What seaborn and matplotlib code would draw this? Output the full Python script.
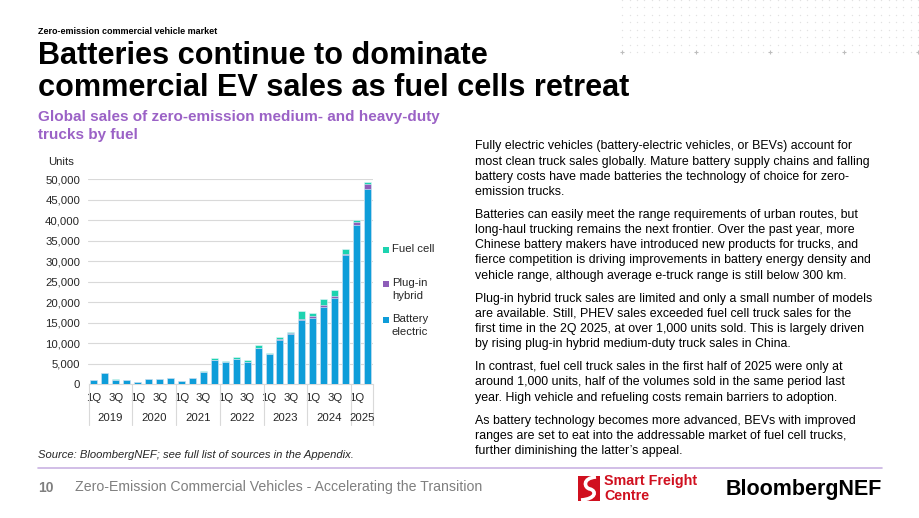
import numpy as np
import pandas as pd
import matplotlib
matplotlib.use("Agg")
import matplotlib.pyplot as plt
import seaborn as sns
from matplotlib.patches import Rectangle, PathPatch
from matplotlib.path import Path
from matplotlib.transforms import blended_transform_factory

# ================= DADOS =================
years = ["2019", "2020", "2021", "2022", "2023", "2024", "2025"]
quarters = ["1Q", "2Q", "3Q", "4Q"]
periods = [f"{q} {y}" for y in years for q in quarters][:26]

battery_electric = [1000, 2650, 1150, 1100, 500, 1250, 1250, 1500, 750, 1450,
                    3100, 6000, 5450, 6250, 5550, 8900, 7350, 10900, 12350, 15700,
                    16150, 18800, 21100, 31500, 38800, 47600]
plug_in_hybrid = [0, 0, 0, 0, 0, 0, 0, 0, 0, 0,
                  0, 0, 0, 0, 0, 50, 0, 50, 50, 150,
                  400, 550, 450, 300, 700, 1300]
fuel_cell = [50, 100, 50, 50, 50, 50, 50, 50, 50, 100,
             150, 350, 350, 500, 350, 650, 250, 650, 350, 2050,
             750, 1450, 1350, 1200, 650, 550]

y_ticks = [0, 5000, 10000, 15000, 20000, 25000, 30000, 35000, 40000, 45000, 50000]
legend_labels = ["Fuel cell", "Plug-in\nhybrid", "Battery\nelectric"]

paragraphs = [
    ["Fully electric vehicles (battery-electric vehicles, or BEVs) account for",
     "most clean truck sales globally. Mature battery supply chains and falling",
     "battery costs have made batteries the technology of choice for zero-",
     "emission trucks."],
    ["Batteries can easily meet the range requirements of urban routes, but",
     "long-haul trucking remains the next frontier. Over the past year, more",
     "Chinese battery makers have introduced new products for trucks, and",
     "fierce competition is driving improvements in battery energy density and",
     "vehicle range, although average e-truck range is still below 300 km."],
    ["Plug-in hybrid truck sales are limited and only a small number of models",
     "are available. Still, PHEV sales exceeded fuel cell truck sales for the",
     "first time in the 2Q 2025, at over 1,000 units sold. This is largely driven",
     "by rising plug-in hybrid medium-duty truck sales in China."],
    ["In contrast, fuel cell truck sales in the first half of 2025 were only at",
     "around 1,000 units, half of the volumes sold in the same period last",
     "year. High vehicle and refueling costs remain barriers to adoption."],
    ["As battery technology becomes more advanced, BEVs with improved",
     "ranges are set to eat into the addressable market of fuel cell trucks,",
     "further diminishing the latter\u2019s appeal."],
]

# ================= ESTILO =================
BEV_COLOR = "#0E9DD9"
PHEV_COLOR = "#8E5DB9"
FC_COLOR = "#1DD3B0"
GRID_COLOR = "#D9D9D9"
TEXT_COLOR = "#262626"
PURPLE = "#9B62C6"

sns.set_style("white")
plt.rcParams["font.family"] = ["Liberation Sans", "DejaVu Sans"]

W, H = 920, 518
fig = plt.figure(figsize=(W / 100, H / 100), dpi=100)

# camada de decoração em coordenadas de pixel
deco = fig.add_axes([0, 0, 1, 1], zorder=0)
deco.set_xlim(0, W)
deco.set_ylim(H, 0)
deco.axis("off")

# eixo do gráfico (pixels: x 88.5-373, y 179.3-384.3)
ax_left, ax_right, ax_top, ax_bot = 88.5, 373.0, 179.3, 384.3
ax = fig.add_axes([ax_left / W, 1 - ax_bot / H, (ax_right - ax_left) / W, (ax_bot - ax_top) / H], zorder=2)

df = pd.DataFrame({"period": periods, "bev": battery_electric,
                   "phev": plug_in_hybrid, "fc": fuel_cell})
df["bev_phev"] = df["bev"] + df["phev"]
df["total"] = df["bev_phev"] + df["fc"]

# barras empilhadas: total -> bev+phev -> bev, sobrepostas
for col, cor in [("total", FC_COLOR), ("bev_phev", PHEV_COLOR), ("bev", BEV_COLOR)]:
    sns.barplot(data=df, x="period", y=col, order=periods, color=cor, saturation=1,
                width=0.64, edgecolor="#E8F4FA", linewidth=0.4, ax=ax, zorder=3)

ax.set_xlim(-0.5, len(periods) - 0.5)
ax.set_ylim(0, 50000)
ax.set_yticks(y_ticks)
ax.set_yticklabels([f"{v:,}" for v in y_ticks], fontsize=8.2, color=TEXT_COLOR)
ax.set_xticks(range(len(periods)))
ax.set_xticklabels([p.split()[0] if p.split()[0] in ("1Q", "3Q") else "" for p in periods],
                   fontsize=8.2, color=TEXT_COLOR)
ax.tick_params(axis="both", length=0)
ax.tick_params(axis="y", pad=6)
ax.tick_params(axis="x", pad=6)
ax.set_xlabel("")
ax.set_ylabel("")
ax.grid(axis="y", color=GRID_COLOR, linewidth=0.8)
ax.set_axisbelow(True)
for s in ["top", "right", "left"]:
    ax.spines[s].set_visible(False)
ax.spines["bottom"].set_color(GRID_COLOR)
ax.spines["bottom"].set_linewidth(0.8)
ax.set_facecolor("none")

# rótulos de ano e separadores
trans = blended_transform_factory(ax.transData, ax.transAxes)
px = 1 / (ax_bot - ax_top)
bordas = [4 * i - 0.5 for i in range(len(years))] + [len(periods) - 0.5]
for b in bordas:
    ax.plot([b, b], [0, -41 * px], transform=trans, color=GRID_COLOR, lw=0.8, clip_on=False)
for i, ano in enumerate(years):
    centro = (bordas[i] + bordas[i + 1]) / 2
    ax.text(centro, -34 * px, ano, transform=trans, ha="center", va="center",
            fontsize=8.2, color=TEXT_COLOR)

deco.text(48, 162, "Units", fontsize=8.2, color=TEXT_COLOR, va="center", ha="left")

# legenda
leg_y = [250, 284, 320]
for yy, lab, cor in zip(leg_y, legend_labels, [FC_COLOR, PHEV_COLOR, BEV_COLOR]):
    deco.add_patch(Rectangle((383, yy - 3), 6, 6, color=cor, lw=0))
    deco.text(392, yy - 6.5, lab, fontsize=8.2, color=TEXT_COLOR, va="top", ha="left",
              linespacing=1.38)

# títulos
deco.text(38, 33.5, "Zero-emission commercial vehicle market", fontsize=6.5,
          fontweight="bold", color="black", va="baseline")
deco.text(38, 64, "Batteries continue to dominate", fontsize=22.1, fontweight="bold",
          color="black", va="baseline")
deco.text(38, 95.5, "commercial EV sales as fuel cells retreat", fontsize=22.1,
          fontweight="bold", color="black", va="baseline")
deco.text(38, 121, "Global sales of zero-emission medium- and heavy-duty", fontsize=11,
          fontweight="bold", color=PURPLE, va="baseline")
deco.text(38, 138.5, "trucks by fuel", fontsize=11, fontweight="bold", color=PURPLE,
          va="baseline")

# texto da direita
y = 145.0
for par in paragraphs:
    for linha in par:
        deco.text(475, y + 4.3, linha, fontsize=8.9, color="black", va="baseline")
        y += 15.2
    y += 23 - 15.2

# fonte e rodapé
deco.text(38, 458.5, "Source: BloombergNEF; see full list of sources in the Appendix.",
          fontsize=8.1, style="italic", color=TEXT_COLOR, va="baseline")
deco.plot([38, 882], [468, 468], color="#C9B3E3", lw=1.2)
deco.text(38, 491.5, "10", fontsize=10, fontweight="bold", color="#7F7F7F", va="baseline")
deco.text(75, 491.5, "Zero-Emission Commercial Vehicles - Accelerating the Transition",
          fontsize=10.15, color="#7F7F7F", va="baseline")

# logo Smart Freight Centre
RED = "#D0101F"
deco.add_patch(Rectangle((578, 476), 22, 25, color=RED, lw=0))
s_path = Path([(596, 477), (582, 478), (584, 488), (590, 489),
               (597, 491), (596, 499), (581, 500)],
              [Path.MOVETO, Path.CURVE4, Path.CURVE4, Path.CURVE4,
               Path.CURVE4, Path.CURVE4, Path.CURVE4])
deco.add_patch(PathPatch(s_path, fill=False, edgecolor="white", lw=2.6))
deco.text(604, 485.5, "Smart Freight", fontsize=10.3, fontweight="bold", color=RED, va="baseline")
deco.text(604, 499.5, "Centre", fontsize=10.3, fontweight="bold", color=RED, va="baseline")
deco.text(882, 495, "BloombergNEF", fontsize=15.5, fontweight="bold", color="black",
          va="baseline", ha="right")

# grade de pontos decorativa
gx, gy = np.meshgrid(622.3 + 7.4 * np.arange(41), 7.47 * np.arange(8))
deco.scatter(gx.ravel(), gy.ravel(), s=1.0, color="#E2E2E2", lw=0)
deco.scatter(622.3 + 74 * np.arange(5), [52.3] * 5, s=12, marker="+", color="#BDBDBD", lw=0.8)

fig.savefig("out.png", dpi=100)
